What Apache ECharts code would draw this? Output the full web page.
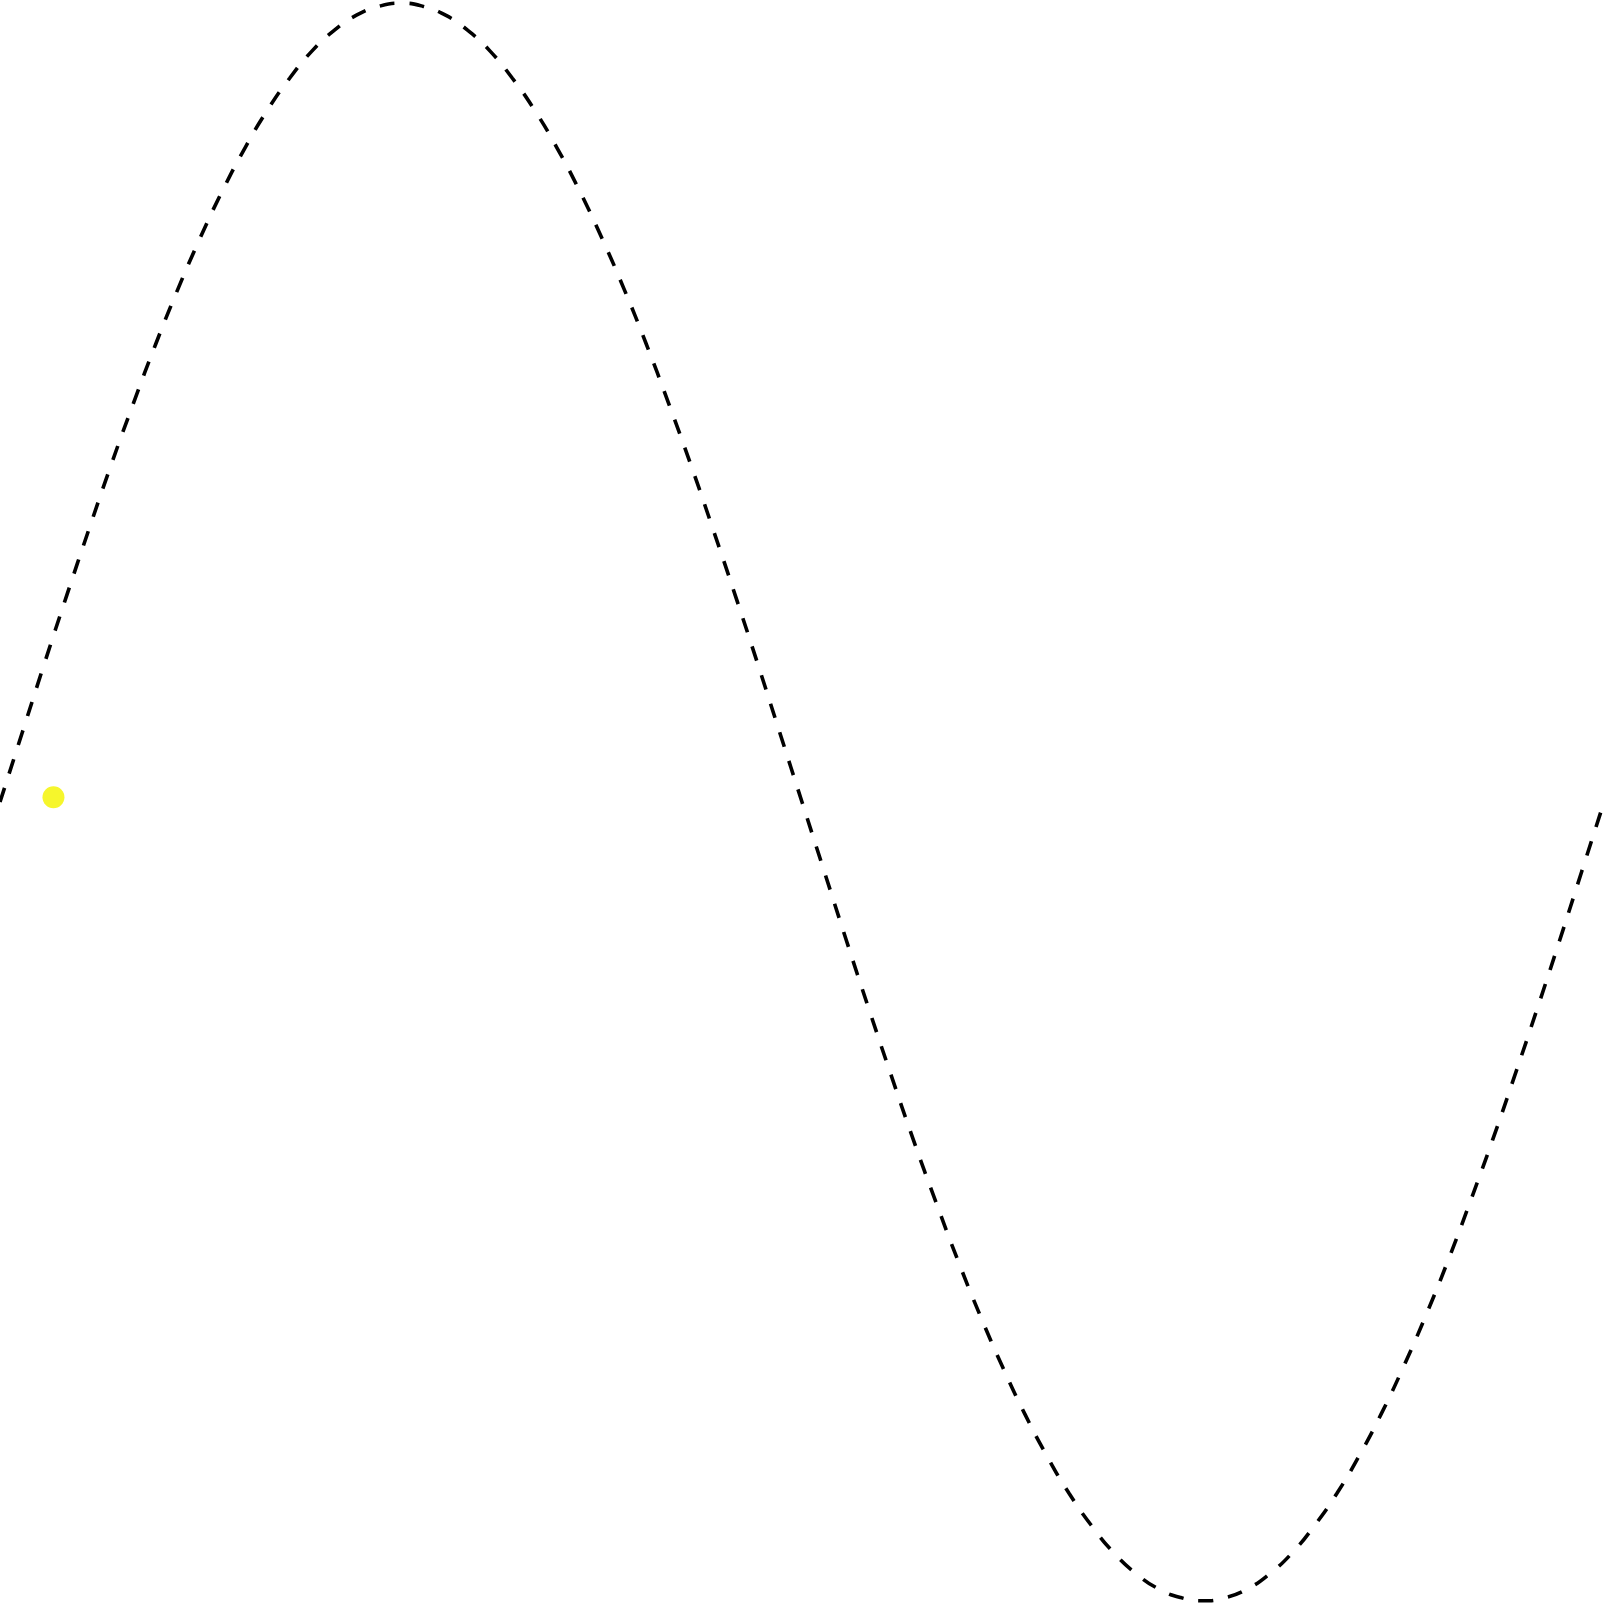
<!DOCTYPE html>
<html>
<head>
<meta charset="utf-8">
<script src="https://cdn.jsdelivr.net/npm/echarts@6/dist/echarts.min.js"></script>
<style>html,body{margin:0;padding:0;background:#fff;}#c{width:1604px;height:1604px;}</style>
</head>
<body>
<div id="c"></div>
<script>
const xDeg = [0,5,10,15,20,25,30,35,40,45,50,55,60,65,70,75,80,85,90,95,100,105,110,115,120,125,130,135,140,145,150,155,160,165,170,175,180,185,190,195,200,205,210,215,220,225,230,235,240,245,250,255,260,265,270,275,280,285,290,295,300,305,310,315,320,325,330,335,340,345,350,355,360];
const curveY = [0,0.087,0.174,0.259,0.342,0.423,0.5,0.574,0.643,0.707,0.766,0.819,0.866,0.906,0.94,0.966,0.985,0.996,1,0.996,0.985,0.966,0.94,0.906,0.866,0.819,0.766,0.707,0.643,0.574,0.5,0.423,0.342,0.259,0.174,0.087,0,-0.087,-0.174,-0.259,-0.342,-0.423,-0.5,-0.574,-0.643,-0.707,-0.766,-0.819,-0.866,-0.906,-0.94,-0.966,-0.985,-0.996,-1,-0.996,-0.985,-0.966,-0.94,-0.906,-0.866,-0.819,-0.766,-0.707,-0.643,-0.574,-0.5,-0.423,-0.342,-0.259,-0.174,-0.087,0];
const dotX = [12.0];
const dotY = [0.006];

const chart = echarts.init(document.getElementById('c'), null, {renderer: 'canvas'});
chart.setOption({
  animation: false,
  backgroundColor: '#ffffff',
  grid: {left: 0, right: 0, top: 0, bottom: 0, containLabel: false},
  xAxis: {type: 'value', min: 0, max: 360, show: false},
  yAxis: {type: 'value', min: -1.004, max: 1.004, show: false},
  series: [
    {
      type: 'line',
      data: xDeg.map((x, i) => [x, curveY[i]]),
      smooth: true,
      showSymbol: false,
      lineStyle: {color: '#000000', width: 3.6, type: [15, 15], cap: 'butt'}
    },
    {
      type: 'scatter',
      data: dotX.map((x, i) => [x, dotY[i]]),
      symbolSize: 22,
      itemStyle: {color: '#f6f62c', opacity: 1}
    }
  ]
});
</script>
</body>
</html>
